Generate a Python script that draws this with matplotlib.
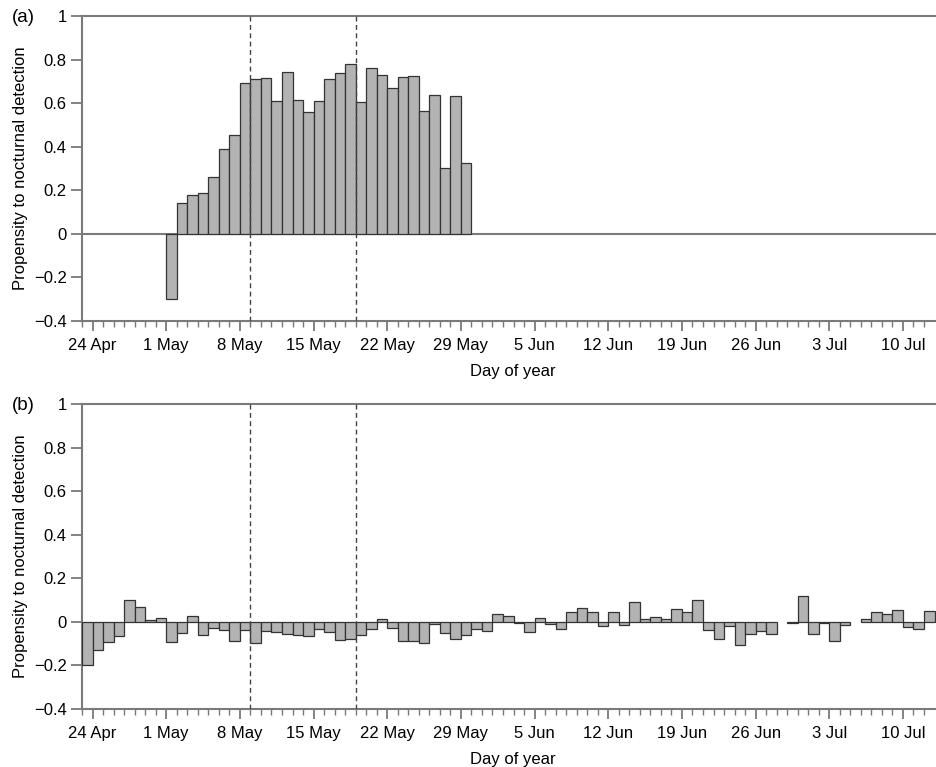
import numpy as np
import pandas as pd
import matplotlib
matplotlib.use("Agg")
import matplotlib.pyplot as plt
import matplotlib.dates as mdates
from matplotlib.ticker import FixedLocator, NullFormatter

plt.rcParams["font.family"] = ["Liberation Sans", "DejaVu Sans"]
plt.rcParams["font.size"] = 12

# one bar per day, 23 Apr .. 12 Jul
days = pd.date_range("2009-04-23", "2009-07-12", freq="D")

# panel (a): only 1 May .. 29 May have values
a_start = "2009-05-01"
a_values = [
    -0.30, 0.141, 0.177, 0.187, 0.261, 0.391, 0.454,          # 1-7 May
    0.693, 0.713, 0.716, 0.609, 0.743, 0.615, 0.560,          # 8-14 May
    0.609, 0.713, 0.737, 0.778, 0.607, 0.763, 0.729,          # 15-21 May
    0.668, 0.719, 0.725, 0.563, 0.636, 0.303, 0.631, 0.323,   # 22-29 May
]

# panel (b): 23 Apr .. 12 Jul, nan = no estimate
b_values = [
    -0.200, -0.130, -0.093, -0.063, 0.100, 0.067, 0.007, 0.019,        # 23-30 Apr
    -0.093, -0.050, 0.028, -0.059, -0.030, -0.038, -0.086,             # 1-7 May
    -0.038, -0.099, -0.044, -0.048, -0.058, -0.060, -0.064,            # 8-14 May
    -0.035, -0.045, -0.081, -0.078, -0.060, -0.035, 0.013,             # 15-21 May
    -0.027, -0.086, -0.086, -0.099, -0.012, -0.050, -0.078,            # 22-28 May
    -0.060, -0.033, -0.043,                                            # 29-31 May
    0.037, 0.026, -0.003, -0.046, 0.020, -0.011, -0.035,               # 1-7 Jun
    0.047, 0.063, 0.047, -0.020, 0.047, -0.015, 0.089,                 # 8-14 Jun
    0.014, 0.024, 0.014, 0.060, 0.043, 0.099, -0.038,                  # 15-21 Jun
    -0.080, -0.018, -0.104, -0.058, -0.043, -0.054, np.nan,            # 22-28 Jun
    -0.003, 0.118,                                                     # 29-30 Jun
    -0.054, -0.005, -0.087, -0.015, np.nan, 0.014, 0.043,              # 1-7 Jul
    0.037, 0.055, -0.023, -0.032, 0.049,                               # 8-12 Jul
]

major_ticks = pd.date_range("2009-04-24", periods=12, freq="7D")
major_labels = [f"{d.day} {d:%b}" for d in major_ticks]
period_lines = [pd.Timestamp("2009-05-09"), pd.Timestamp("2009-05-19")]

y_ticks = [-0.4, -0.2, 0, 0.2, 0.4, 0.6, 0.8, 1]
y_labels = ["\u22120.4", "\u22120.2", "0", "0.2", "0.4", "0.6", "0.8", "1"]

series_a = pd.Series(np.nan, index=days)
series_a.loc[pd.date_range(a_start, periods=len(a_values), freq="D")] = a_values
series_b = pd.Series(b_values, index=days)

AX_COL = "#7a7a7a"
BAR_FILL = "#b3b3b3"
BAR_EDGE = "#333333"

fig = plt.figure(figsize=(9.36, 7.67), dpi=100)
W, H = 936.0, 767.0
left, right = 82 / W, 944 / W
panels = [
    (series_a, 16, 321, "(a)", True),
    (series_b, 404, 709, "(b)", False),
]

x_lo = mdates.date2num(pd.Timestamp("2009-04-23"))
x_hi = mdates.date2num(pd.Timestamp("2009-04-24")) + 80.9

for s, top_px, bot_px, tag, zero_line in panels:
    ax = fig.add_axes([left, 1 - bot_px / H, right - left, (bot_px - top_px) / H])
    x = mdates.date2num(s.index)
    ok = s.notna().to_numpy()
    ax.bar(x[ok], s.to_numpy()[ok], width=1.0, align="edge",
           color=BAR_FILL, edgecolor=BAR_EDGE, linewidth=0.9, zorder=3)
    if zero_line:
        ax.axhline(0, color=AX_COL, lw=1.5, zorder=2)
    for d in period_lines:
        ax.axvline(mdates.date2num(d), color="#444444", lw=1.0,
                   ls=(0, (3.5, 2.5)), zorder=4)

    ax.set_xlim(x_lo, x_hi)
    ax.set_ylim(-0.4, 1.0)
    ax.set_yticks(y_ticks)
    ax.set_yticklabels(y_labels)
    ax.xaxis.set_major_locator(FixedLocator(mdates.date2num(major_ticks)))
    ax.set_xticklabels(major_labels)
    ax.xaxis.set_minor_locator(FixedLocator(x))
    ax.xaxis.set_minor_formatter(NullFormatter())

    for side in ["left", "bottom", "top"]:
        ax.spines[side].set_color(AX_COL)
        ax.spines[side].set_linewidth(1.5)
    ax.spines["right"].set_visible(False)

    ax.tick_params(axis="y", direction="out", length=8, width=1.3,
                   color=AX_COL, pad=3, labelsize=12)
    ax.tick_params(axis="x", which="major", direction="out", length=7,
                   width=1.3, color=AX_COL, pad=5, labelsize=12)
    ax.tick_params(axis="x", which="minor", direction="out", length=4,
                   width=1.0, color=AX_COL)

    ax.set_ylabel("Propensity to nocturnal detection", fontsize=12, labelpad=4)
    ax.set_xlabel("Day of year", fontsize=12, labelpad=8)

    fig.text(12 / W, 1 - (top_px + 2) / H, tag, fontsize=13.5,
             ha="left", va="center")

fig.savefig("out.png", dpi=100)
